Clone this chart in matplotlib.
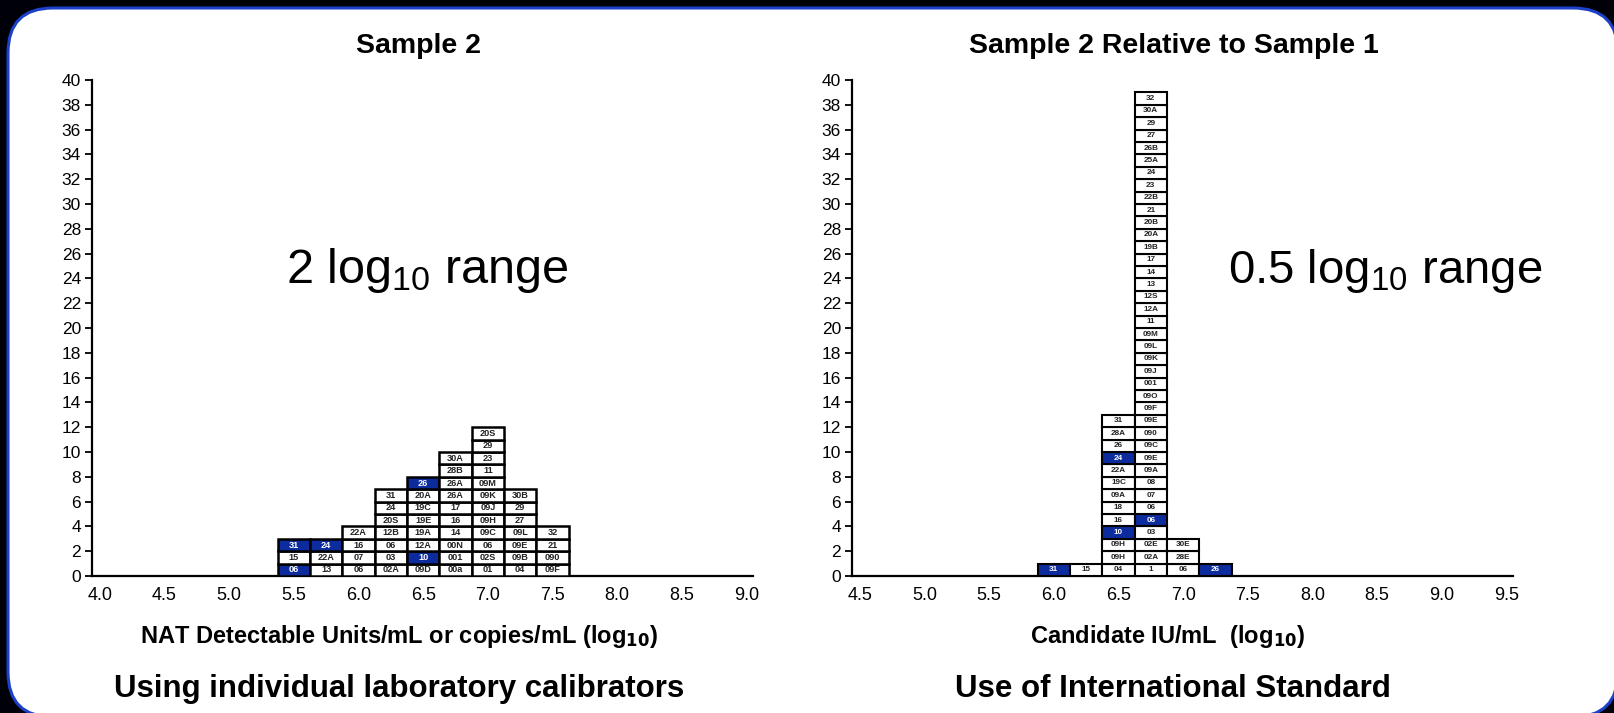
import matplotlib.pyplot as plt
from matplotlib.patches import Rectangle, FancyBboxPatch
from matplotlib.transforms import IdentityTransform

plt.rcParams['font.family'] = ['Liberation Sans', 'DejaVu Sans']
plt.rcParams['mathtext.default'] = 'regular'

W, H = 1614, 713
BIN_W = 0.25
NAVY = '#0c2c9e'

# Sample 2, each lab's own calibrator: bin centres and lab codes stacked bottom-up
left_centers = [5.5, 5.75, 6.0, 6.25, 6.5, 6.75, 7.0, 7.25, 7.5]
left_labs = [
    ['06', '15', '31'],
    ['13', '22A', '24'],
    ['06', '07', '16', '22A'],
    ['02A', '03', '06', '12B', '20S', '24', '31'],
    ['09D', '10', '12A', '19A', '19E', '19C', '20A', '26'],
    ['00a', '001', '00N', '14', '16', '17', '26A', '26A', '28B', '30A'],
    ['01', '02S', '06', '09C', '09H', '09J', '09K', '09M', '11', '23', '29', '20S'],
    ['04', '09B', '09E', '09L', '27', '29', '30B'],
    ['09F', '090', '21', '32'],
]
left_highlight = [[0, 2], [2], [], [], [1, 7], [], [], [], []]

# Sample 2 relative to Sample 1 (candidate IU/mL)
right_centers = [6.0, 6.25, 6.5, 6.75, 7.0, 7.25]
right_labs = [
    ['31'],
    ['15'],
    ['04', '09H', '09H', '10', '16', '18', '09A', '19C', '22A', '24', '26', '28A', '31'],
    ['1', '02A', '02E', '03', '06', '06', '07', '08', '09A', '09E', '09C', '090', '09E',
     '09F', '09O', '001', '09J', '09K', '09L', '09M', '11', '12A', '12S', '13', '14', '17',
     '19B', '20A', '20B', '21', '22B', '23', '24', '25A', '26B', '27', '29', '30A', '32'],
    ['06', '28E', '30E'],
    ['26'],
]
right_highlight = [[0], [], [3, 9], [4], [], [0]]

left_ticks = [4.0, 4.5, 5.0, 5.5, 6.0, 6.5, 7.0, 7.5, 8.0, 8.5, 9.0]
right_ticks = [4.5, 5.0, 5.5, 6.0, 6.5, 7.0, 7.5, 8.0, 8.5, 9.0, 9.5]
y_ticks = list(range(0, 41, 2))


def draw_stacks(ax, centers, columns, highlights, fontsize, lw):
    for x, labels, hl in zip(centers, columns, highlights):
        for i, lab in enumerate(labels):
            blue = i in hl
            ax.add_patch(Rectangle((x - BIN_W / 2, i), BIN_W, 1,
                                   facecolor=NAVY if blue else 'white',
                                   edgecolor='black', lw=lw, zorder=3))
            ax.text(x, i + 0.5, lab, ha='center', va='center',
                    fontsize=fontsize, fontweight='bold',
                    color='white' if blue else '#222222', zorder=4)


def style_axes(ax, ticks):
    ax.set_facecolor('none')
    ax.set_xlim(ticks[0] - 0.06, ticks[-1] + 0.05)
    ax.set_ylim(0, 40)
    ax.set_xticks(ticks)
    ax.set_xticklabels([f'{t:.1f}' for t in ticks])
    ax.set_yticks(y_ticks)
    for s in ['top', 'right']:
        ax.spines[s].set_visible(False)
    for s in ['left', 'bottom']:
        ax.spines[s].set_linewidth(1.6)
    ax.tick_params(axis='y', length=5, width=1.3, labelsize=12.5, pad=3)
    ax.tick_params(axis='x', length=0, labelsize=13, pad=8)


fig = plt.figure(figsize=(W / 100, H / 100), dpi=100)
fig.patch.set_facecolor('#000008')

# white rounded panel with blue rim
panel = FancyBboxPatch((8, -4), 1610, 709, boxstyle='round,pad=0,rounding_size=45',
                       facecolor='white', edgecolor='#1c40c8', lw=2.2,
                       transform=IdentityTransform(), zorder=0)
fig.add_artist(panel)

axl = fig.add_axes([92 / W, 137 / H, 661 / W, 496 / H])
axr = fig.add_axes([852 / W, 137 / H, 661 / W, 496 / H])

draw_stacks(axl, left_centers, left_labs, left_highlight, 6.6, 1.8)
draw_stacks(axr, right_centers, right_labs, right_highlight, 5.9, 1.5)
style_axes(axl, left_ticks)
style_axes(axr, right_ticks)

axl.text(6.53, 24.6, '2 log$_{10}$ range', ha='center', va='center', fontsize=35)
axr.text(8.56, 24.6, '0.5 log$_{10}$ range', ha='center', va='center', fontsize=34)

fig.text(418 / W, 1 - 46 / H, 'Sample 2', ha='center', va='center',
         fontsize=20.5, fontweight='bold')
fig.text(1174 / W, 1 - 46 / H, 'Sample 2 Relative to Sample 1', ha='center', va='center',
         fontsize=20.5, fontweight='bold')

fig.text(399 / W, 1 - 636 / H, 'NAT Detectable Units/mL or copies/mL (log$_{\\mathbf{10}}$)',
         ha='center', va='center', fontsize=17, fontweight='bold')
fig.text(1168 / W, 1 - 636 / H, 'Candidate IU/mL  (log$_{\\mathbf{10}}$)',
         ha='center', va='center', fontsize=17, fontweight='bold')

fig.text(399 / W, 1 - 689 / H, 'Using individual laboratory calibrators',
         ha='center', va='center', fontsize=22.5, fontweight='bold')
fig.text(1173 / W, 1 - 689 / H, 'Use of International Standard',
         ha='center', va='center', fontsize=22.5, fontweight='bold')

fig.savefig('out.png', dpi=100, facecolor=fig.get_facecolor())
